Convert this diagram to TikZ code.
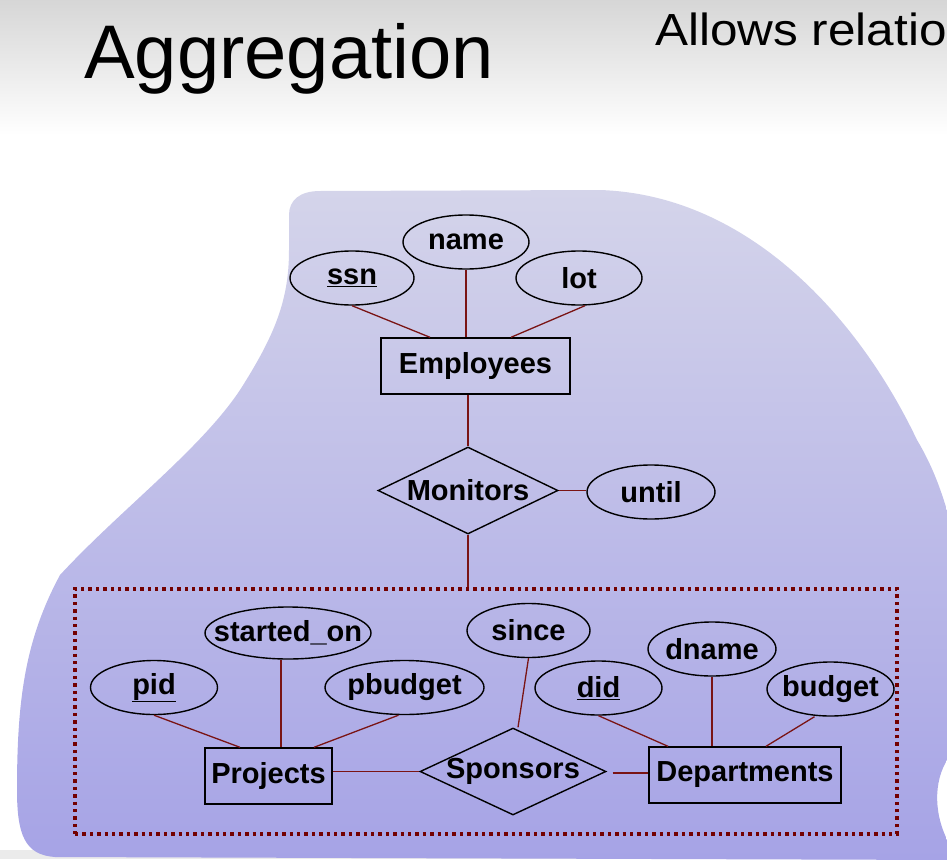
\documentclass[tikz,border=0pt]{standalone}
\usepackage{fontspec}
\setmainfont{Liberation Sans}
\usetikzlibrary{shapes.geometric}
\definecolor{blobtop}{RGB}{212,212,234}
\definecolor{blobbot}{RGB}{166,163,230}
\definecolor{linkred}{RGB}{122,20,20}
\definecolor{dotred}{RGB}{115,0,0}
\newcommand\zt[1]{\makebox[0pt]{#1}}
\newcommand\ul[1]{\underline{#1}}
\begin{document}
\begin{tikzpicture}[x=1pt,y=-1pt,
  erfont/.style={font=\bfseries\fontsize{29}{32}\selectfont},
  entity/.style={draw=black,line width=1.4pt,rectangle,inner sep=0pt,minimum height=56pt,erfont},
  attr/.style={draw=black,line width=1.4pt,ellipse,inner sep=0pt,minimum width=126pt,minimum height=54pt,erfont},
  rel/.style={draw=black,line width=1.4pt,diamond,aspect=2,inner sep=0pt,erfont},
  link/.style={draw=linkred,line width=1.3pt},
  aggbox/.style={draw=dotred,line width=3.6pt,dash pattern=on 3.4pt off 4pt,rectangle,inner sep=0pt}
]
\useasboundingbox (0,0) rectangle (947,859);
% background
\fill[top color=black!16,bottom color=white] (0,0) rectangle (947,135);
\fill[black!8] (0,850) rectangle (947,859);
% blob
\path[top color=blobtop,bottom color=blobbot]
  (320,191) -- (600,190) .. controls (750,195) and (860,320) .. (917,440)
  .. controls (935,470) and (945,500) .. (955,540) -- (955,750)
  .. controls (935,770) and (932,805) .. (945,835) -- (955,860)
  -- (55,857) .. controls (25,855) and (17,835) .. (17,790)
  .. controls (17,700) and (25,640) .. (60,575)
  .. controls (120,510) and (200,450) .. (240,390)
  .. controls (275,335) and (289,300) .. (289,250) -- (289,215)
  .. controls (289,200) and (300,191) .. (320,191) -- cycle;
% titles
\node[anchor=base west,inner sep=0pt,font=\fontsize{76}{80}\selectfont] (title) at (84,78) {Aggregation};
\node[anchor=base west,inner sep=0pt,xscale=1.1,font=\fontsize{45}{50}\selectfont] (sub) at (655,46) {Allows relatio};
% aggregation box
\node[aggbox,minimum width=822pt,minimum height=245pt] (agg) at (486,711.5) {};
% Employees part
\node[entity,minimum width=189pt] (emp) at (475.5,366) {Employees};
\node[attr,minimum width=124pt] (ssn) at (352,278) {\zt{\ul{ssn}}};
\node[attr] (name) at (466,242) {\zt{name}};
\node[attr] (lot) at (579,278) {\zt{lot}};
\node[rel,minimum width=180pt,minimum height=87pt] (mon) at (468,490.5) {\makebox[100pt]{Monitors}};
\node[attr,minimum width=128pt] (until) at (651,492) {\zt{until}};
% inside aggregation
\node[entity,minimum width=127pt] (proj) at (268.5,776) {Projects};
\node[attr,minimum width=127pt] (pid) at (154,687.5) {\zt{\ul{pid}}};
\node[attr,minimum width=166pt,minimum height=52pt] (started) at (288,633) {\zt{started\_on}};
\node[attr,minimum width=159pt] (pbudget) at (404.5,687.5) {\zt{pbudget}};
\node[rel,minimum width=186pt,minimum height=87pt] (spons) at (513,771.5) {\makebox[100pt]{Sponsors}};
\node[attr,minimum width=123pt] (since) at (528.5,630.5) {\zt{since}};
\node[entity,minimum width=192pt] (dept) at (745,775) {Departments};
\node[attr,minimum width=127pt] (did) at (598.5,688) {\zt{\ul{did}}};
\node[attr,minimum width=128pt] (dname) at (712,649) {\zt{dname}};
\node[attr,minimum width=127pt] (budget) at (830.5,689) {\zt{budget}};
% connectors
\draw[link] (ssn.south) -- ([xshift=-45.5pt]emp.north);
\draw[link] (name.south) -- (name.south |- emp.north);
\draw[link] ([xshift=6pt]lot.south) -- ([xshift=35.5pt]emp.north);
\draw[link] (mon.north |- emp.south) -- (mon.north);
\draw[link] (mon.east) -- (mon.east -| until.west);
\draw[link] (mon.south) -- (mon.south |- agg.north);
\draw[link] (pid.south) -- ([xshift=-28.5pt]proj.north);
\draw[link] ([xshift=-7pt]started.south) -- ([xshift=-7pt]started.south |- proj.north);
\draw[link] ([xshift=-6pt]pbudget.south) -- ([xshift=45.5pt]proj.north);
\draw[link] (proj.east |- spons.west) -- (spons.west);
\draw[link] ([xshift=6pt,yshift=-1.5pt]spons.east) -- ([yshift=-1.5pt]spons.east -| dept.west);
\draw[link] (since.south) -- ([xshift=5pt]spons.north);
\draw[link] (did.south) -- ([xshift=-77pt]dept.north);
\draw[link] (dname.south) -- (dname.south |- dept.north);
\draw[link] ([xshift=-16pt]budget.south) -- ([xshift=21pt]dept.north);
\end{tikzpicture}
\end{document}
